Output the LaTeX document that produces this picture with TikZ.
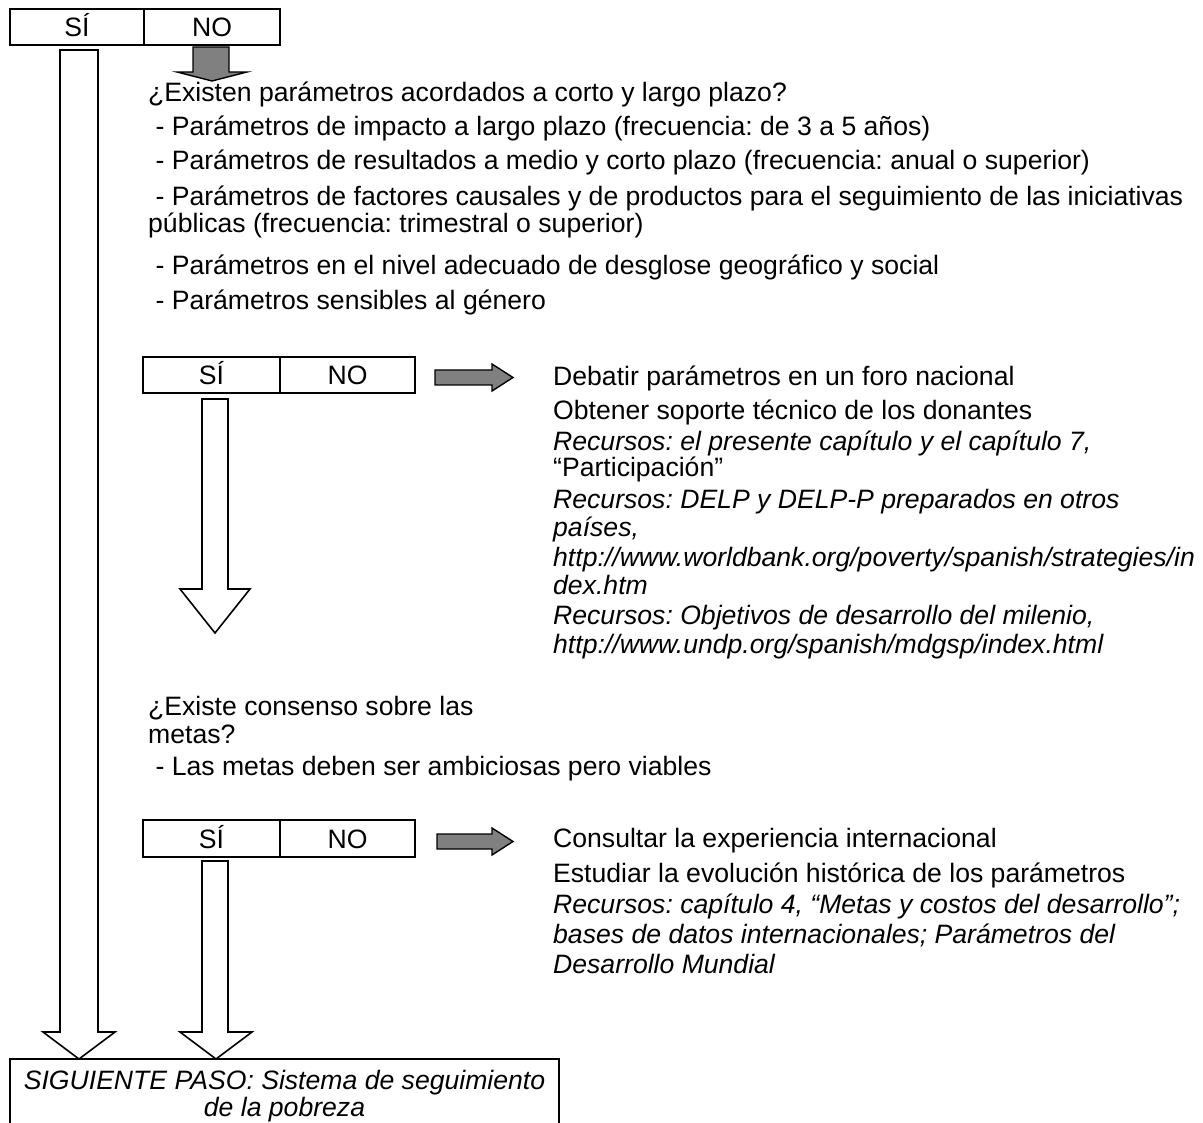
\documentclass[tikz,border=0pt]{standalone}
\usepackage{fontspec}
\setmainfont{Liberation Sans}
\newcommand\fz{\fontsize{26.6}{28}\selectfont}
\frenchspacing
\begin{document}
\frenchspacing
\begin{tikzpicture}[x=1pt,y=-1pt,
  txt/.style={anchor=base west,inner sep=0pt,font=\fz},
  itxt/.style={txt,font=\fz\itshape},
  cell/.style={draw,line width=2pt,inner sep=0pt,font=\fz,text height=19pt,text depth=0pt},
  warrow/.style={draw,line width=1.6pt,fill=white,line join=miter},
  garrow/.style={draw,line width=1.4pt,fill=black!50,line join=miter}]
\useasboundingbox (0,0) rectangle (1203,1123);

% top decision box
\node[cell,minimum width=134pt,minimum height=36pt] (si1) at (77,27) {SÍ};
\node[cell,minimum width=136pt,minimum height=36pt] (no1) at (212,27) {NO};

% gray arrow down from NO
\draw[garrow] (193,47) -- (229,47) -- (229,72) -- (247,72) -- (212,81) -- (177,72) -- (193,72) -- cycle;

% question 1
\node[txt] (q1) at (148,102) {¿Existen parámetros acordados a corto y largo plazo?};
\node[txt] (q1a) at (148,136) {\ - Parámetros de impacto a largo plazo (frecuencia: de 3 a 5 años)};
\node[txt] (q1b) at (148,170) {\ - Parámetros de resultados a medio y corto plazo (frecuencia: anual o superior)};
\node[txt] (q1c) at (148,206) {\makebox[1035pt][s]{\ - Parámetros de factores causales y de productos para el seguimiento de las iniciativas}};
\node[txt] (q1d) at (148,233) {públicas (frecuencia: trimestral o superior)};
\node[txt] (q1e) at (148,275) {\ - Parámetros en el nivel adecuado de desglose geográfico y social};
\node[txt] (q1f) at (148,310) {\ - Parámetros sensibles al género};

% second decision box
\node[cell,minimum width=137pt,minimum height=36pt] (si2) at (211.5,375) {SÍ};
\node[cell,minimum width=135pt,minimum height=36pt] (no2) at (347.5,375) {NO};
\draw[garrow] (435,370) -- (492,370) -- (492,364) -- (513,377.5) -- (492,391) -- (492,385) -- (435,385) -- cycle;

\node[txt] (r1) at (553,386) {Debatir parámetros en un foro nacional};
\node[txt] (r2) at (553,420) {Obtener soporte técnico de los donantes};
\node[itxt] (r3) at (553,450) {Recursos: el presente capítulo y el capítulo 7,};
\node[txt] (r4) at (553,476) {“Participación”};
\node[itxt] (r5) at (553,508) {Recursos: DELP y DELP-P preparados en otros};
\node[itxt] (r6) at (553,536) {países,};
\node[itxt] (r7) at (553,566) {http://www.worldbank.org/poverty/spanish/strategies/in};
\node[itxt] (r8) at (553,594) {dex.htm};
\node[itxt] (r9) at (553,624) {Recursos: Objetivos de desarrollo del milenio,};
\node[itxt] (r10) at (553,653) {http://www.undp.org/spanish/mdgsp/index.html};

% white arrow from SÍ (box 2)
\draw[warrow] (202,399) -- (228,399) -- (228,589) -- (250,589) -- (215,633) -- (180,589) -- (202,589) -- cycle;

% question 2
\node[txt] (q2) at (148,715) {¿Existe consenso sobre las};
\node[txt] (q2b) at (148,743) {metas?};
\node[txt] (q2c) at (148,775) {\ - Las metas deben ser ambiciosas pero viables};

% third decision box
\node[cell,minimum width=137pt,minimum height=37pt] (si3) at (211.5,838.5) {SÍ};
\node[cell,minimum width=135pt,minimum height=37pt] (no3) at (347.5,838.5) {NO};
\draw[garrow] (437,834) -- (492,834) -- (492,828) -- (513,841.5) -- (492,855) -- (492,849) -- (437,849) -- cycle;

\node[txt] (s1) at (553,847) {Consultar la experiencia internacional};
\node[txt] (s2) at (553,882) {Estudiar la evolución histórica de los parámetros};
\node[itxt] (s3) at (553,913) {Recursos: capítulo 4, “Metas y costos del desarrollo”;};
\node[itxt] (s4) at (553,943) {bases de datos internacionales; Parámetros del};
\node[itxt] (s5) at (553,973) {Desarrollo Mundial};

% long white arrow from top SÍ
\draw[warrow] (60,50) -- (98,50) -- (98,1032) -- (115,1032) -- (79,1059) -- (43,1032) -- (60,1032) -- cycle;
% white arrow from third SÍ
\draw[warrow] (202,861) -- (228,861) -- (228,1032) -- (252,1032) -- (216,1059) -- (180,1032) -- (202,1032) -- cycle;

% next step box
\draw[line width=2pt] (10,1124) -- (10,1059) -- (559,1059) -- (559,1124);
\node[anchor=base,inner sep=0pt,font=\fz\itshape] (n1) at (284.5,1089) {SIGUIENTE PASO: Sistema de seguimiento};
\node[anchor=base,inner sep=0pt,font=\fz\itshape] (n2) at (284.5,1116) {de la pobreza};
\end{tikzpicture}
\end{document}
